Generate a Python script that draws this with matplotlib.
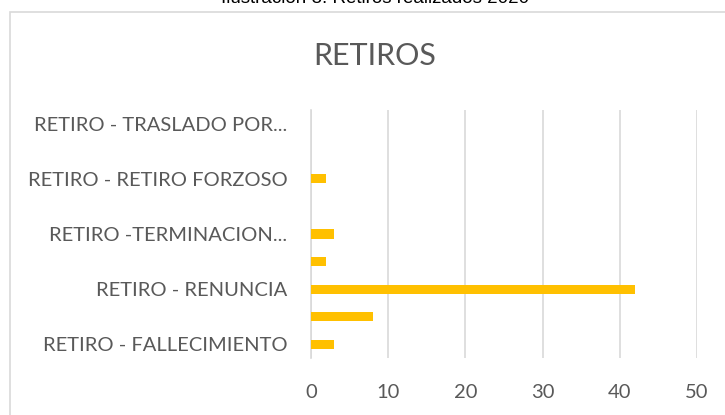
import matplotlib.pyplot as plt
from matplotlib.patches import Rectangle

categorias = [
    "RETIRO - FALLECIMIENTO",
    "RETIRO - PENSIÓN",
    "RETIRO - RENUNCIA",
    "RETIRO - DESTITUCIÓN",
    "RETIRO -TERMINACION NOMBRAMIENTO",
    "RETIRO - ABANDONO DEL CARGO",
    "RETIRO - RETIRO FORZOSO",
    "RETIRO - INVALIDEZ",
    "RETIRO - TRASLADO POR CONVENIO",
]
retiros = [3, 8, 42, 2, 3, 0, 2, 0, 0]
etiquetas = ["RETIRO - FALLECIMIENTO", "", "RETIRO - RENUNCIA", "",
             "RETIRO -TERMINACION...", "", "RETIRO - RETIRO FORZOSO", "",
             "RETIRO - TRASLADO POR..."]
xticks = [0, 10, 20, 30, 40, 50]

gris = "#595959"
plt.rcParams['font.family'] = ['Lato', 'DejaVu Sans']

fig = plt.figure(figsize=(7.25, 4.15), dpi=100)

# marco del gráfico
fig.patches.append(Rectangle((10 / 725, -0.05), 1.0, 1 - 12 / 415 + 0.05,
                             transform=fig.transFigure, fill=False,
                             edgecolor="#D9D9D9", linewidth=1.2))

fig.text(375 / 725, 1 - 3 / 415, "Ilustración 8. Retiros realizados 2020",
         ha="center", va="baseline", fontsize=13.5, family="Liberation Sans")

ax = fig.add_axes([311 / 725, 1 - 358 / 415, (697 - 311) / 725, (358 - 110) / 415])
ax.barh(range(len(categorias)), retiros, height=0.33, color="#FFC000", zorder=3)
ax.set_xlim(0, 50)
ax.set_ylim(-0.5, len(categorias) - 0.5)
ax.set_yticks(range(len(categorias)))
ax.set_yticklabels(etiquetas, fontsize=14.5, color=gris)
ax.set_xticks(xticks)
ax.set_xticklabels([str(t) for t in xticks], fontsize=14.5, color=gris)
ax.tick_params(length=0, pad=19, axis="x")
ax.tick_params(length=0, pad=17, axis="y")
ax.grid(axis="x", color="#D9D9D9", linewidth=1.2, zorder=0)
for s in ["top", "right", "bottom"]:
    ax.spines[s].set_visible(False)
ax.spines["left"].set_color("#D9D9D9")
ax.spines["left"].set_linewidth(1.2)

fig.text(375 / 725, 1 - 56 / 415, "RETIROS", ha="center", va="center",
         fontsize=22, color=gris)

fig.savefig("out.png", dpi=100)
